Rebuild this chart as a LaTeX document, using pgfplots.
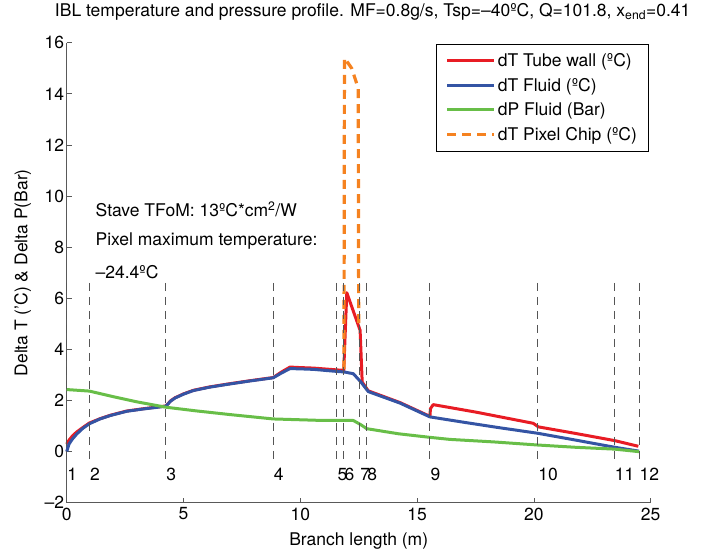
\documentclass[border=0pt]{standalone}
\usepackage{pgfplots}
\pgfplotsset{compat=1.18}
\usepackage{fontspec}
\setmainfont{TeX Gyre Heros}

\definecolor{cred}{RGB}{232,28,36}
\definecolor{cblue}{RGB}{52,84,164}
\definecolor{cgreen}{RGB}{104,190,72}
\definecolor{corange}{RGB}{245,130,32}
\definecolor{cdash}{RGB}{85,85,85}
\newcommand{\fs}{\fontsize{17.5}{20}\selectfont}

\begin{document}
\begin{tikzpicture}
\path (-66.7pt,-51.3pt) rectangle ++(707pt,554pt);
\begin{axis}[name=ax, at={(0,0)}, anchor=south west,
  scale only axis, width=584pt, height=460pt,
  xmin=0, xmax=25, ymin=-2, ymax=16, clip=false,
  axis x line*=bottom, axis y line*=left,
  axis line style={draw=black!65, line width=0.8pt},
  tick align=inside, major tick length=5pt,
  tick style={draw=black!65, line width=0.8pt},
  xtick={0,5,10,15,20,25}, xticklabels={0,5,10,15,20,25},
  ytick={-2,0,2,4,6,8,10,12,14,16},
  yticklabels={\textendash2,0,2,4,6,8,10,12,14,16},
  font=\fs,
  xticklabel style={yshift=-1.5pt},
  yticklabel style={xshift=1pt},
  every axis title/.style={at={(axis description cs:0.5,1)}, anchor=center, xshift=14pt, yshift=31pt, font=\fs},
  title={IBL temperature and pressure profile. MF=0.8g/s, Tsp=\textendash40ºC, Q=101.8, x\textsubscript{end}=0.41},
  every axis x label/.style={at={(axis description cs:0.5,0)}, anchor=center, yshift=-38pt, font=\fs},
  xlabel={Branch length (m)},
  every axis y label/.style={at={(axis description cs:0,0.5)}, anchor=center, xshift=-44pt, rotate=90, font=\fs},
  ylabel={Delta T ('C) \& Delta P(Bar)},
  legend style={at={(axis description cs:0.996,0.998)}, anchor=north east, draw=black, line width=0.8pt, fill=white,
    font=\fs, row sep=6.3pt, inner xsep=9pt, inner ysep=7pt, cells={anchor=west}},
  legend image code/.code={\draw[#1] (0pt,0pt) -- (47pt,0pt);},
]
% dT Tube wall
\addplot[cred, line width=3pt, line join=round] coordinates {
(0,0.3) (0.1,0.45) (0.25,0.62) (0.43,0.77) (0.7,0.95) (0.97,1.12) (1.4,1.28) (1.85,1.42)
(2.57,1.59) (3.28,1.68) (4.0,1.76) (4.25,1.79) (4.45,1.99) (4.64,2.11) (5.0,2.26) (5.42,2.4)
(6.1,2.53) (6.85,2.64) (7.8,2.77) (8.84,2.9) (9.2,3.12) (9.56,3.31) (10.0,3.29) (10.56,3.27)
(11.56,3.2) (11.86,3.18) (11.99,6.22) (12.56,4.75) (12.65,2.72) (12.91,2.38) (14.27,1.92)
(15.55,1.38) (15.57,1.68) (15.69,1.84) (17.5,1.55) (19.97,1.11) (20.19,0.97) (21.8,0.71)
(23.47,0.43) (24.47,0.21)
};
\addlegendentry{dT Tube wall (ºC)}
% dT Fluid
\addplot[cblue, line width=3pt, line join=round] coordinates {
(0,0.0) (0.1,0.3) (0.25,0.5) (0.43,0.69) (0.7,0.92) (0.97,1.09) (1.4,1.27) (1.85,1.41)
(2.57,1.58) (3.28,1.67) (4.0,1.75) (4.25,1.78) (4.45,1.98) (4.64,2.1) (5.0,2.25) (5.42,2.39)
(6.1,2.52) (6.85,2.63) (7.8,2.76) (8.84,2.89) (9.2,3.08) (9.56,3.25) (10.0,3.24) (10.56,3.22)
(11.56,3.14) (11.87,3.12) (12.27,3.05) (12.6,2.72) (12.91,2.35) (14.27,1.9) (15.55,1.36)
(17.0,1.15) (18.5,0.94) (20.16,0.72) (21.8,0.45) (23.47,0.17) (24.5,0.02)
};
\addlegendentry{dT Fluid (ºC)}
% dP Fluid
\addplot[cgreen, line width=3pt, line join=round] coordinates {
(0,2.43) (0.97,2.37) (2.0,2.15) (3.0,1.95) (4.24,1.74) (5.5,1.6) (7.0,1.45) (8.84,1.28)
(10.98,1.22) (12.27,1.22) (12.6,1.05) (12.84,0.9) (14.2,0.7) (15.55,0.56) (16.4,0.48)
(18.3,0.38) (20.16,0.26) (21.8,0.17) (23.44,0.1) (24.5,0.0)
};
\addlegendentry{dP Fluid (Bar)}
% dT Pixel Chip
\addplot[corange, line width=3.2pt, dash pattern=on 9pt off 6pt] coordinates {
(11.87,3.24) (11.89,15.4) (12.05,15.2) (12.2,15.0) (12.38,14.5) (12.48,14.2) (12.5,4.8)
};
\addlegendentry{dT Pixel Chip (ºC)}
% section markers
\pgfplotsset{every axis plot post/.append style={forget plot}}
\addplot[cdash, line width=1pt, dash pattern=on 8pt off 6pt] coordinates {(0,6.6) (0,-0.5)};
\addplot[cdash, line width=1pt, dash pattern=on 8pt off 6pt] coordinates {(0.97,6.6) (0.97,-0.5)};
\addplot[cdash, line width=1pt, dash pattern=on 8pt off 6pt] coordinates {(4.24,6.6) (4.24,-0.5)};
\addplot[cdash, line width=1pt, dash pattern=on 8pt off 6pt] coordinates {(8.84,6.6) (8.84,-0.5)};
\addplot[cdash, line width=1pt, dash pattern=on 8pt off 6pt] coordinates {(11.57,6.6) (11.57,-0.5)};
\addplot[cdash, line width=1pt, dash pattern=on 8pt off 6pt] coordinates {(11.87,6.6) (11.87,-0.5)};
\addplot[cdash, line width=1pt, dash pattern=on 8pt off 6pt] coordinates {(12.54,6.6) (12.54,-0.5)};
\addplot[cdash, line width=1pt, dash pattern=on 8pt off 6pt] coordinates {(12.84,6.6) (12.84,-0.5)};
\addplot[cdash, line width=1pt, dash pattern=on 8pt off 6pt] coordinates {(15.55,6.6) (15.55,-0.5)};
\addplot[cdash, line width=1pt, dash pattern=on 8pt off 6pt] coordinates {(20.16,6.6) (20.16,-0.5)};
\addplot[cdash, line width=1pt, dash pattern=on 8pt off 6pt] coordinates {(23.44,6.6) (23.44,-0.5)};
\addplot[cdash, line width=1pt, dash pattern=on 8pt off 6pt] coordinates {(24.5,6.6) (24.5,-0.5)};
\begin{scope}[every node/.style={anchor=west, inner xsep=0.5pt, inner ysep=0pt, font=\fs}]
\node at (axis cs:0,-0.9) {1};
\node at (axis cs:0.97,-0.9) {2};
\node at (axis cs:4.24,-0.9) {3};
\node at (axis cs:8.84,-0.9) {4};
\node at (axis cs:11.57,-0.9) {5};
\node at (axis cs:11.87,-0.9) {6};
\node at (axis cs:12.54,-0.9) {7};
\node at (axis cs:12.84,-0.9) {8};
\node at (axis cs:15.55,-0.9) {9};
\node at (axis cs:20.16,-0.9) {10};
\node at (axis cs:23.44,-0.9) {11};
\node at (axis cs:24.5,-0.9) {12};
\node at (axis cs:1.21,9.49) {Stave TFoM: 13ºC*cm\textsuperscript{2}/W};
\node at (axis cs:1.21,8.24) {Pixel maximum temperature:};
\node at (axis cs:1.21,7.02) {\textendash24.4ºC};
\end{scope}
\end{axis}
\end{tikzpicture}
\end{document}
